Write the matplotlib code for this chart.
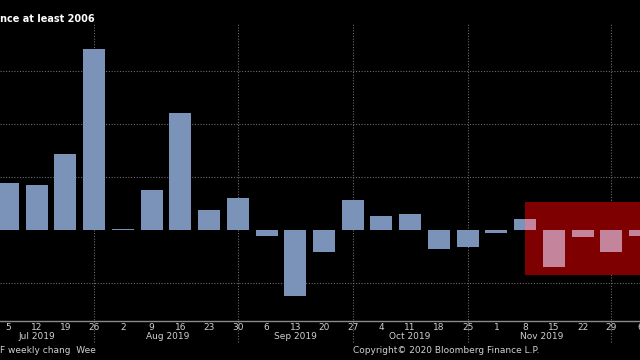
# -*- coding: utf-8 -*-
import matplotlib
matplotlib.use('Agg')
import matplotlib.pyplot as plt
import matplotlib.patches as mpatches
import pandas as pd

# weekly flows (grid units), Fridays from 5 Jul 2019
weeks = ['2019-07-05', '2019-07-12', '2019-07-19', '2019-07-26', '2019-08-02',
         '2019-08-09', '2019-08-16', '2019-08-23', '2019-08-30', '2019-09-06',
         '2019-09-13', '2019-09-20', '2019-09-27', '2019-10-04', '2019-10-11',
         '2019-10-18', '2019-10-25', '2019-11-01', '2019-11-08', '2019-11-15',
         '2019-11-22', '2019-11-29', '2019-12-06']
flows = [0.88, 0.86, 1.44, 3.41, 0.02, 0.76, 2.21, 0.38, 0.60, -0.11,
         -1.25, -0.42, 0.57, 0.26, 0.30, -0.36, -0.32, -0.06, 0.21, -0.70,
         -0.13, -0.42, -0.11]
month_labels = ['Jul 2019', 'Aug 2019', 'Sep 2019', 'Oct 2019', 'Nov 2019']
month_pos = ['2019-07-12', '2019-08-13', '2019-09-13', '2019-10-11', '2019-11-12']
month_ends = ['2019-07-26', '2019-08-30', '2019-09-27', '2019-10-25', '2019-11-29']
highlight_start = '2019-11-08'
highlight_lo, highlight_hi = -0.84, 0.53

dates = pd.to_datetime(weeks)
bg = 'black'
blue = '#7b93b8'
pink = '#c4849b'
txt = '#d0d0d0'

fig = plt.figure(figsize=(6.4, 3.6), dpi=100, facecolor=bg)
ax = fig.add_axes([0, 0.108, 1, 0.828], facecolor=bg)

bars = ax.bar(dates, flows, width=5.35, color=blue, zorder=3)

# red highlight box over the last weeks
x0 = pd.Timestamp(highlight_start)
rect = mpatches.Rectangle((x0, highlight_lo), pd.Timedelta(days=60),
                          highlight_hi - highlight_lo,
                          facecolor='#7e0000', edgecolor='none', zorder=2)
ax.add_patch(rect)
# bars seen through the box turn pink
bars2 = ax.bar(dates, flows, width=5.35, color=pink, zorder=4)
for b in bars2:
    b.set_clip_path(rect)

ax.set_xlim(dates[0] - pd.Timedelta(days=1.95), dates[0] + pd.Timedelta(days=7 * 21.97))
ax.set_ylim(-1.717, 3.906)

for y in [-1, 1, 2, 3]:
    ax.axhline(y, color='#6a6a6a', lw=0.8, ls=(0, (1, 1.5)), zorder=1)
for d in month_ends:
    ax.axvline(pd.Timestamp(d), ymin=-0.07, ymax=1, color='#6a6a6a', lw=0.8,
               ls=(0, (1, 1.5)), zorder=1, clip_on=False)

for s in ['top', 'right', 'left']:
    ax.spines[s].set_visible(False)
ax.spines['bottom'].set_color('#8a8a8a')
ax.spines['bottom'].set_linewidth(1.0)
ax.set_yticks([])
ax.set_xticks(dates)
ax.set_xticklabels([str(d.day) for d in dates], color=txt, fontsize=6.5)
ax.tick_params(axis='x', length=0, pad=1)

for lab, pos in zip(month_labels, month_pos):
    ax.text(pd.Timestamp(pos), -0.036, lab, transform=ax.get_xaxis_transform(),
            ha='center', va='top', color=txt, fontsize=6.5)

fig.text(0.0, 0.948, 'nce at least 2006', color='white', fontsize=7,
         fontweight='bold', ha='left', va='center')
fig.text(0.0, 0.015, 'F weekly chang  Wee', color=txt, fontsize=6.5,
         ha='left', va='bottom')
fig.text(0.552, 0.015, 'Copyright\u00a9 2020 Bloomberg Finance L.P.', color=txt,
         fontsize=6.5, ha='left', va='bottom')

fig.savefig('out.png', dpi=100, facecolor=bg)
